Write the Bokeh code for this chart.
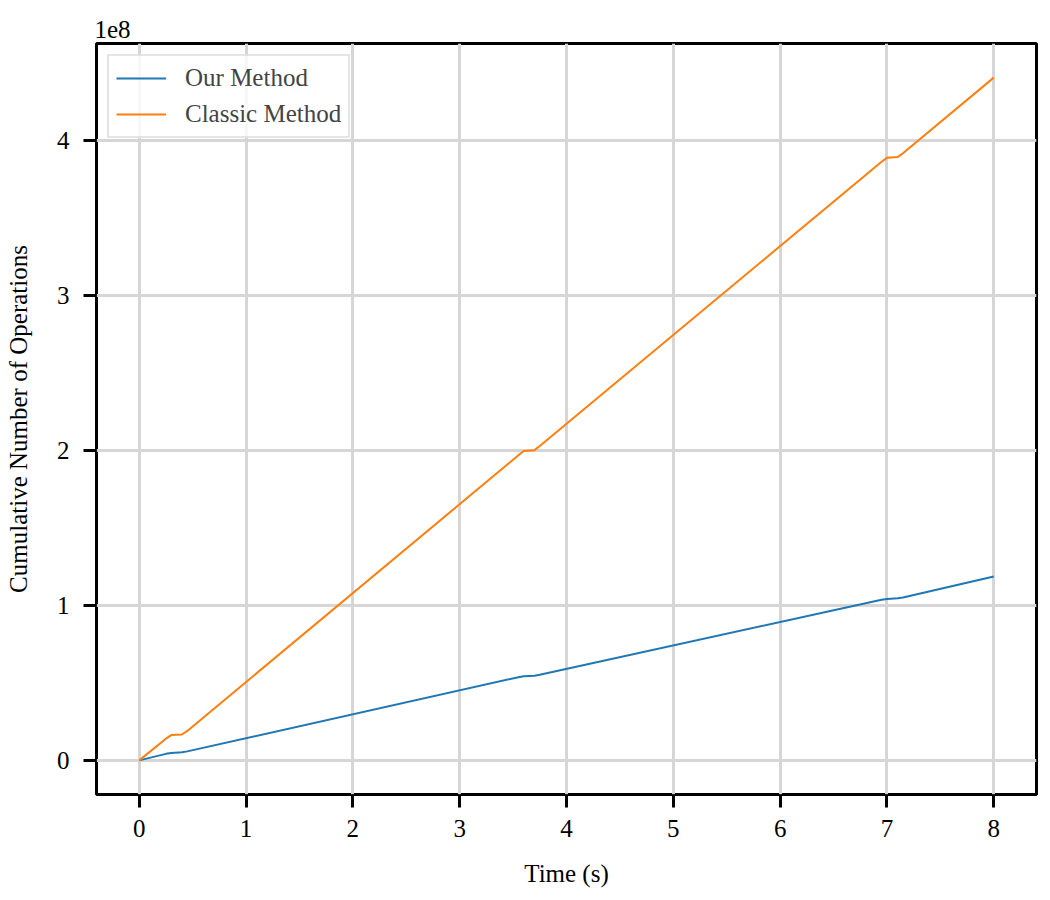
from bokeh.plotting import figure
from bokeh.models import Range1d, FixedTicker, Legend, LegendItem
from bokeh.embed import file_html
from bokeh.resources import INLINE

# ---- data (values in units of 1e8 operations) ----
time_s = [0.0, 0.25, 0.30, 0.40, 0.45, 3.55, 3.60, 3.70, 3.75, 6.95, 7.00, 7.10, 7.15, 8.00]
our_ops_1e8 = [0.0, 0.042, 0.048, 0.052, 0.058, 0.537, 0.543, 0.547, 0.553, 1.037, 1.042, 1.046, 1.052, 1.187]
classic_ops_1e8 = [0.0, 0.14, 0.163, 0.167, 0.19, 1.97, 1.998, 2.003, 2.03, 3.865, 3.89, 3.895, 3.92, 4.408]
series_names = ["Our Method", "Classic Method"]
series_colors = ["#1f77b4", "#ff7f0e"]
x_ticks = [0, 1, 2, 3, 4, 5, 6, 7, 8]
y_ticks = [0, 1, 2, 3, 4]
offset_text = "1e8"

FONT = "Liberation Serif"
FS = "25px"

p = figure(
    frame_width=940, frame_height=751,
    min_border_left=96, min_border_top=43, min_border_right=6, min_border_bottom=100,
    x_range=Range1d(-0.4, 8.4), y_range=Range1d(-0.2204, 4.6284),
    output_backend="svg", toolbar_location=None,
    title=offset_text,
)

r_our = p.line(time_s, our_ops_1e8, line_color=series_colors[0], line_width=2)
r_classic = p.line(time_s, classic_ops_1e8, line_color=series_colors[1], line_width=2)

p.title.align = "left"
p.title.text_font = FONT
p.title.text_font_size = FS
p.title.text_font_style = "normal"
p.title.text_color = "black"
p.title.text_line_height = 0.7
p.title.standoff = 12
p.title.offset = -2

# frame
p.outline_line_color = "black"
p.outline_line_width = 3
p.outline_line_alpha = 1.0

# grid
for g in (p.xgrid, p.ygrid):
    g.grid_line_color = "#d6d6d6"
    g.grid_line_width = 3

p.xaxis.ticker = FixedTicker(ticks=x_ticks)
p.yaxis.ticker = FixedTicker(ticks=y_ticks)

for ax in (p.xaxis, p.yaxis):
    ax.axis_line_color = None
    ax.major_tick_in = 0
    ax.major_tick_out = 13
    ax.major_tick_line_width = 3
    ax.major_tick_line_color = "black"
    ax.minor_tick_line_color = None
    ax.major_label_text_font = FONT
    ax.major_label_text_font_size = FS
    ax.major_label_text_color = "black"
    ax.axis_label_text_font = FONT
    ax.axis_label_text_font_size = FS
    ax.axis_label_text_font_style = "normal"
    ax.axis_label_text_color = "black"

p.xaxis.axis_label = "Time (s)"
p.yaxis.axis_label = "Cumulative Number of Operations"
p.xaxis.major_label_standoff = 12
p.yaxis.major_label_standoff = 14
p.xaxis.axis_label_standoff = 20
p.yaxis.axis_label_standoff = 22

legend = Legend(
    items=[LegendItem(label=series_names[0], renderers=[r_our]),
           LegendItem(label=series_names[1], renderers=[r_classic])],
    location="top_left",
    label_text_font=FONT, label_text_font_size=FS,
    glyph_width=50, glyph_height=30, label_height=30,
    label_standoff=19, padding=7, spacing=6, margin=11,
    border_line_color="#cccccc", border_line_width=2,
    background_fill_color="white", background_fill_alpha=0.8,
)
p.add_layout(legend)

open("out.html", "w").write(file_html(p, INLINE))
